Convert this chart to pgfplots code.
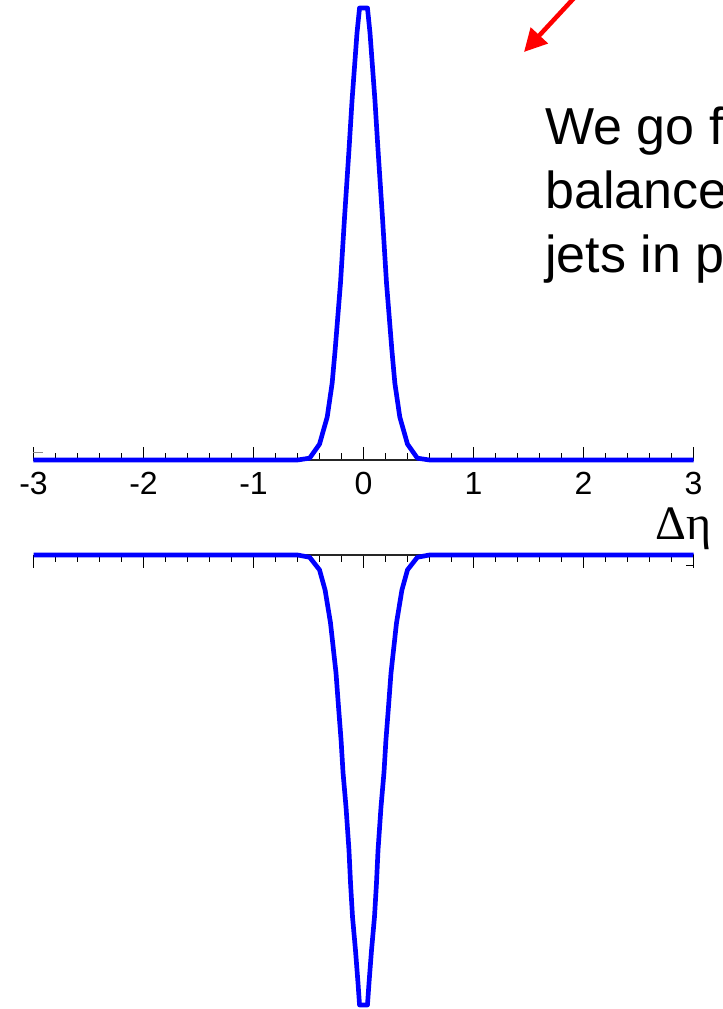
\documentclass[border=0pt]{standalone}
\usepackage{fontspec}
\setmainfont{Liberation Sans}
\newfontfamily\greekfont{Liberation Serif}
\usepackage{pgfplots}
\pgfplotsset{compat=1.18}
\usetikzlibrary{arrows.meta}

% shared look of the two correlation profiles
\pgfplotsset{
  profile/.style={
    scale only axis, width=495pt,
    xmin=-3, xmax=3,
    axis y line=none, ytick=\empty,
    xtick={-3,...,3},
    minor x tick num=4,
    tick align=inside,
    major tick length=10pt,
    minor tick length=5pt,
    tick style={black, line width=0.6pt},
    axis line style={black!85, line width=0.8pt},
    clip=false,
  },
  curve/.style={blue, line width=3.5pt, line join=round},
}

\begin{document}
\begin{tikzpicture}
\useasboundingbox (0,0) rectangle (542.25pt,756.75pt);
\clip (0,0) rectangle (542.25pt,756.75pt);

% near-side peak
\begin{axis}[profile,
  at={(25.125pt,411.75pt)}, anchor=south west,
  height=339pt, ymin=0, ymax=1,
  axis x line*=bottom,
  xticklabels={-3,-2,-1,0,1,2,3},
  xticklabel style={font=\fontsize{24}{28}\selectfont, inner sep=0pt, yshift=-9pt},
]
\addplot[curve] coordinates {
  (-3,0) (-0.6,0) (-0.49,0.004) (-0.4,0.035) (-0.33,0.095) (-0.285,0.17)
  (-0.258,0.243) (-0.209,0.392) (-0.172,0.538) (-0.132,0.686) (-0.104,0.796)
  (-0.059,0.945) (-0.036,1.0) (0.036,1.0) (0.059,0.945) (0.104,0.796)
  (0.132,0.686) (0.172,0.538) (0.209,0.392) (0.258,0.243) (0.285,0.17)
  (0.33,0.095) (0.4,0.035) (0.49,0.004) (0.6,0) (3,0)
};
\draw[black!45, line width=0.5pt] (axis cs:-3,0.017) -- (axis cs:-2.91,0.017);
\end{axis}

% away-side dip
\begin{axis}[profile,
  at={(25.125pt,3pt)}, anchor=south west,
  height=337.5pt, ymin=-1, ymax=0,
  axis x line*=top,
  xticklabels={},
]
\addplot[curve] coordinates {
  (-3,0) (-0.6,0) (-0.49,-0.005) (-0.4,-0.033) (-0.349,-0.078) (-0.3,-0.151)
  (-0.25,-0.262) (-0.227,-0.338) (-0.204,-0.411) (-0.186,-0.484) (-0.159,-0.56)
  (-0.132,-0.656) (-0.118,-0.729) (-0.1,-0.804) (-0.073,-0.878) (-0.05,-0.951)
  (-0.036,-1) (0.036,-1) (0.05,-0.951) (0.073,-0.878) (0.1,-0.804)
  (0.118,-0.729) (0.132,-0.656) (0.159,-0.56) (0.186,-0.484) (0.204,-0.411)
  (0.227,-0.338) (0.25,-0.262) (0.3,-0.151) (0.349,-0.078) (0.4,-0.033)
  (0.49,-0.005) (0.6,0) (3,0)
};
\draw[black, line width=0.6pt] (axis cs:3,0) -- (axis cs:3,-0.023) -- (axis cs:2.935,-0.023);
\end{axis}

% axis title between the panels
\node[anchor=base, inner sep=0pt, font=\greekfont\fontsize{36}{42}\selectfont]
  at (512.6pt,351.75pt) {Δη};

% side text
\begin{scope}[every node/.style={anchor=base west, inner sep=0pt,
    font=\fontsize{39}{48}\selectfont}]
\node at (408.75pt,648pt) {We go f};
\node at (408.75pt,600pt) {balance};
\node at (408.75pt,552pt) {jets in p};
\end{scope}

% pointer
\draw[red, line width=3.4pt, -{Triangle[length=17pt,width=17pt]}]
  (431.25pt,759pt) -- (393pt,717.75pt);
\end{tikzpicture}
\end{document}
